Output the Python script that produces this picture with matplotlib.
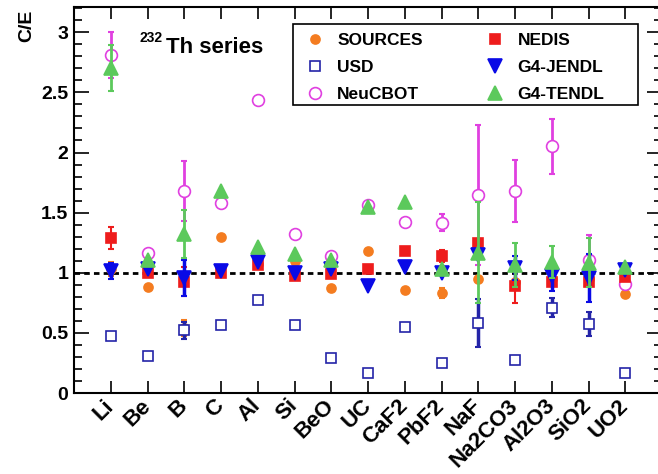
import numpy as np
import matplotlib
matplotlib.use('Agg')
import matplotlib.pyplot as plt
from matplotlib.ticker import MultipleLocator, FormatStrFormatter
from matplotlib.transforms import ScaledTranslation
from matplotlib.patches import Rectangle

plt.rcParams['font.family'] = 'Liberation Sans'
plt.rcParams['font.weight'] = 'bold'

targets = ['Li', 'Be', 'B', 'C', 'Al', 'Si', 'BeO', 'UC', 'CaF2', 'PbF2',
           'NaF', 'Na2CO3', 'Al2O3', 'SiO2', 'UO2']

# C/E values, one list per code
sources = [1.03, 0.88, 0.54, 1.30, 1.07, 1.10, 0.87, 1.18, 0.86, 0.83, 0.95, 0.92, 0.95, 0.95, 0.82]
sources_err = [0.06, 0, 0.07, 0, 0, 0, 0, 0, 0, 0.04, 0, 0, 0, 0, 0]
usd = [0.47, 0.31, 0.52, 0.565, 0.77, 0.565, 0.29, 0.165, 0.55, 0.25, 0.585, 0.275, 0.71, 0.575, 0.17]
usd_err = [0, 0, 0.07, 0, 0, 0, 0, 0, 0, 0, 0.2, 0.03, 0.08, 0.1, 0]
neucbot = [2.81, 1.165, 1.68, 1.58, 2.44, 1.325, 1.14, 1.56, 1.425, 1.415, 1.645, 1.68, 2.05, 1.11, 0.905]
neucbot_err = [0.19, 0, 0.25, 0, 0, 0, 0, 0, 0, 0.07, 0.58, 0.26, 0.23, 0.2, 0]
nedis = [1.29, 1.0, 0.925, 0.995, 1.065, 0.97, 0.99, 1.035, 1.18, 1.14, 1.25, 0.89, 0.925, 0.925, 0.965]
nedis_err = [0.09, 0, 0.12, 0, 0, 0, 0, 0, 0, 0.05, 0, 0.14, 0, 0, 0]
jendl = [1.015, 1.035, 0.96, 1.015, 1.09, 1.0, 1.035, 0.89, 1.05, 0.995, 1.145, 1.04, 0.97, 0.955, 1.02]
jendl_err = [0.07, 0, 0.15, 0, 0, 0, 0, 0, 0, 0, 0, 0.1, 0.12, 0.2, 0]
tendl = [2.70, 1.11, 1.32, 1.68, 1.215, 1.16, 1.105, 1.55, 1.585, 1.035, 1.165, 1.065, 1.09, 1.085, 1.045]
tendl_err = [0.19, 0, 0.2, 0, 0, 0, 0, 0, 0, 0, 0.42, 0.18, 0.13, 0.2, 0]

fig = plt.figure(figsize=(6.58, 4.74), dpi=100)
ax = fig.add_axes([74 / 658, 81 / 474, 588 / 658, 386 / 474])

x = np.arange(len(targets))

# label, values, errors, colour, marker, size, filled, error line width
series = [
    ('SOURCES', sources, sources_err, '#f47c20', 'o', 6.5, True, 1.5),
    ('USD', usd, usd_err, '#2424a8', 's', 7.5, False, 2.5),
    ('NeuCBOT', neucbot, neucbot_err, '#e040e0', 'o', 8.5, False, 2),
    ('NEDIS', nedis, nedis_err, '#ee1c1c', 's', 7.5, True, 1.5),
    ('G4-JENDL', jendl, jendl_err, '#0a0ae6', 'v', 9.5, True, 2.5),
    ('G4-TENDL', tendl, tendl_err, '#5cc95c', '^', 9.5, True, 2),
]

handles = []
for i, (label, vals, errs, col, mk, ms, filled, elw) in enumerate(series):
    vals = np.array(vals)
    errs = np.array(errs)
    has = errs > 0
    if has.any():
        ax.errorbar(x[has], vals[has], yerr=errs[has], fmt='none', ecolor=col,
                    elinewidth=elw, capsize=2, capthick=1.5, zorder=3 + 2 * i)
    h, = ax.plot(x, vals, linestyle='none', marker=mk, markersize=ms,
                 markerfacecolor=col if filled else 'white',
                 markeredgecolor=col, markeredgewidth=1.2,
                 zorder=4 + 2 * i, label=label)
    handles.append(h)

ax.axhline(1.0, color='black', linestyle=(0, (2, 1.5)), linewidth=2, zorder=2)

ax.set_xlim(-1, 15)
ax.set_ylim(0, 3.21)

ax.set_xticks(x)
ax.set_xticklabels(targets, rotation=45, ha='right', va='center',
                   rotation_mode='anchor', fontsize=16, fontweight='bold')
shift = ScaledTranslation(7 / 72, 0, fig.dpi_scale_trans)
for lab in ax.get_xticklabels():
    lab.set_transform(lab.get_transform() + shift)
ax.yaxis.set_major_locator(MultipleLocator(0.5))
ax.yaxis.set_minor_locator(MultipleLocator(0.1))
ax.yaxis.set_major_formatter(FormatStrFormatter('%g'))
ax.tick_params(axis='y', which='major', direction='in', length=11, width=1.2,
               right=True, labelsize=14, pad=4)
ax.tick_params(axis='y', which='minor', direction='in', length=6, width=1.2, right=True)
ax.tick_params(axis='x', which='major', direction='in', length=8.5, width=1.2,
               top=True, pad=7)
for lab in ax.get_yticklabels():
    lab.set_fontweight('bold')
for sp in ax.spines.values():
    sp.set_linewidth(1.5)

fig.text(27 / 658, 1 - 10 / 474, 'C/E', rotation=90, ha='center', va='top',
         fontsize=14, fontweight='bold')
fig.text(140 / 658, 1 - 42 / 474, '232', ha='left', va='baseline',
         fontsize=10, fontweight='bold')
fig.text(166 / 658, 1 - 53 / 474, 'Th series', ha='left', va='baseline',
         fontsize=16, fontweight='bold')

# legend box spans 293..638 px across, 24..105 px down
def ax_frac(px, py):
    return (px - 74) / 588, (393 - py) / 386

x0, y0 = ax_frac(293, 105)
x1, y1 = ax_frac(638, 24)
ax.add_patch(Rectangle((x0, y0), x1 - x0, y1 - y0, transform=ax.transAxes,
                       facecolor='white', edgecolor='black', linewidth=1.2,
                       zorder=20))
leg = ax.legend(handles=handles, ncol=2, loc='upper left',
                bbox_to_anchor=(x0, y1), fontsize=12.5, frameon=False,
                handlelength=1.5, handletextpad=0.55, labelspacing=0.7,
                columnspacing=3.4, borderpad=0.5, borderaxespad=0)
leg.set_zorder(21)
for t in leg.get_texts():
    t.set_fontweight('bold')

fig.savefig('out.png', dpi=100)
